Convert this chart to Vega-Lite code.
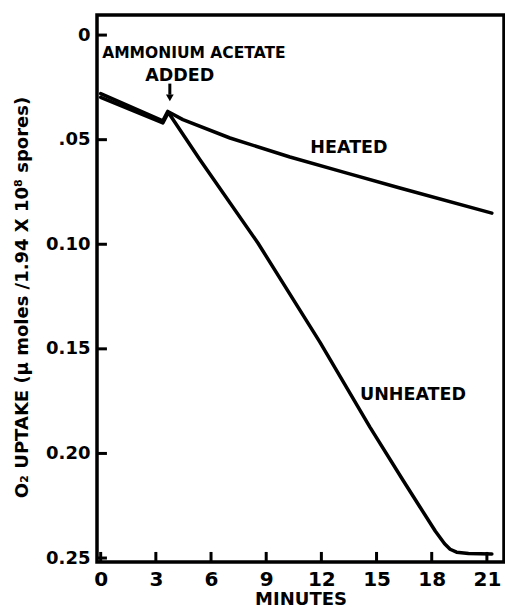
{
  "$schema": "https://vega.github.io/schema/vega-lite/v6.json",
  "width": 407,
  "height": 547,
  "autosize": "none",
  "padding": {"left": 97, "top": 15, "right": 1, "bottom": 45},
  "background": "white",
  "config": {"view": {"stroke": "black", "strokeWidth": 3.5}, "font": "DejaVu Sans"},
  "datasets": {
    "curves": [
      {"series": "heated", "minutes": 0, "uptake": 0.0280},
      {"series": "heated", "minutes": 3.38, "uptake": 0.0410},
      {"series": "heated", "minutes": 3.65, "uptake": 0.0365},
      {"series": "heated", "minutes": 4.47, "uptake": 0.0404},
      {"series": "heated", "minutes": 7.03, "uptake": 0.0492},
      {"series": "heated", "minutes": 10.29, "uptake": 0.0583},
      {"series": "heated", "minutes": 13.39, "uptake": 0.0660},
      {"series": "heated", "minutes": 16.27, "uptake": 0.0731},
      {"series": "heated", "minutes": 21.27, "uptake": 0.0851},
      {"series": "unheated", "minutes": 0, "uptake": 0.0298},
      {"series": "unheated", "minutes": 3.38, "uptake": 0.0420},
      {"series": "unheated", "minutes": 3.68, "uptake": 0.0370},
      {"series": "unheated", "minutes": 5.39, "uptake": 0.0595},
      {"series": "unheated", "minutes": 8.55, "uptake": 0.0994},
      {"series": "unheated", "minutes": 11.92, "uptake": 0.1468},
      {"series": "unheated", "minutes": 14.64, "uptake": 0.1874},
      {"series": "unheated", "minutes": 16.43, "uptake": 0.2127},
      {"series": "unheated", "minutes": 17.36, "uptake": 0.2256},
      {"series": "unheated", "minutes": 18.2, "uptake": 0.2372},
      {"series": "unheated", "minutes": 18.7, "uptake": 0.2432},
      {"series": "unheated", "minutes": 19.0, "uptake": 0.2458},
      {"series": "unheated", "minutes": 19.35, "uptake": 0.2472},
      {"series": "unheated", "minutes": 20.0, "uptake": 0.2478},
      {"series": "unheated", "minutes": 21.27, "uptake": 0.2481}
    ],
    "labels": [
      {"label": "AMMONIUM ACETATE", "minutes": 5.07, "uptake": 0.0084},
      {"label": "ADDED", "minutes": 4.3, "uptake": 0.0194},
      {"label": "HEATED", "minutes": 13.5, "uptake": 0.0540},
      {"label": "UNHEATED", "minutes": 16.98, "uptake": 0.1720}
    ],
    "arrow": [
      {"minutes": 3.76, "top": 0.0232, "bottom": 0.0285, "head": 0.0300}
    ],
    "xticks": [
      {"minutes": 0}, {"minutes": 3}, {"minutes": 6}, {"minutes": 9},
      {"minutes": 12}, {"minutes": 15}, {"minutes": 18}, {"minutes": 21}
    ],
    "yticks": [
      {"uptake": 0}, {"uptake": 0.05}, {"uptake": 0.1},
      {"uptake": 0.15}, {"uptake": 0.2}, {"uptake": 0.25}
    ]
  },
  "layer": [
    {
      "data": {"name": "curves"},
      "mark": {"type": "line", "color": "black", "strokeWidth": 3.5, "strokeJoin": "round", "strokeCap": "round"},
      "encoding": {
        "x": {
          "field": "minutes", "type": "quantitative",
          "scale": {"domain": [-0.2, 21.93], "nice": false, "zero": false},
          "axis": {
            "values": [0, 3, 6, 9, 12, 15, 18, 21],
            "domain": false, "grid": false, "ticks": false,
            "labelPadding": 7, "labelFontSize": 20, "labelFontWeight": "bold", "labelColor": "black",
            "labelFlush": false,
            "title": "MINUTES", "titleFontSize": 18, "titleFontWeight": "bold", "titleColor": "black",
            "titleY": 42, "titleBaseline": "alphabetic"
          }
        },
        "y": {
          "field": "uptake", "type": "quantitative",
          "scale": {"domain": [-0.0096, 0.2519], "reverse": true, "nice": false, "zero": false},
          "axis": {
            "values": [0, 0.05, 0.1, 0.15, 0.2, 0.25],
            "labelExpr": "datum.value == 0 ? '0' : (datum.value == 0.05 ? '.05' : format(datum.value, '.2f'))",
            "domain": false, "grid": false, "ticks": false,
            "labelPadding": 7, "labelFontSize": 18, "labelFontWeight": "bold", "labelColor": "black",
            "labelFlush": false,
            "title": "O₂ UPTAKE (µ moles /1.94 X 10⁸ spores)",
            "titleFontSize": 18, "titleFontWeight": "bold", "titleColor": "black",
            "titleAngle": -90, "titleX": -75, "titleY": 282, "titleAlign": "center", "titleBaseline": "middle"
          }
        },
        "detail": {"field": "series"}
      }
    },
    {
      "data": {"name": "xticks"},
      "mark": {"type": "rule", "color": "black", "strokeWidth": 3},
      "encoding": {
        "x": {"field": "minutes", "type": "quantitative"},
        "y": {"datum": 0.2519},
        "y2": {"datum": 0.2471}
      }
    },
    {
      "data": {"name": "yticks"},
      "mark": {"type": "rule", "color": "black", "strokeWidth": 3},
      "encoding": {
        "y": {"field": "uptake", "type": "quantitative"},
        "x": {"datum": -0.2},
        "x2": {"datum": 0.34}
      }
    },
    {
      "data": {"name": "labels"},
      "transform": [{"filter": "datum.label == 'AMMONIUM ACETATE'"}],
      "mark": {"type": "text", "fontWeight": "bold", "fontSize": 15.5, "color": "black", "align": "center", "baseline": "middle"},
      "encoding": {
        "x": {"field": "minutes", "type": "quantitative"},
        "y": {"field": "uptake", "type": "quantitative"},
        "text": {"field": "label"}
      }
    },
    {
      "data": {"name": "labels"},
      "transform": [{"filter": "datum.label != 'AMMONIUM ACETATE'"}],
      "mark": {"type": "text", "fontWeight": "bold", "fontSize": 17.5, "color": "black", "align": "center", "baseline": "middle"},
      "encoding": {
        "x": {"field": "minutes", "type": "quantitative"},
        "y": {"field": "uptake", "type": "quantitative"},
        "text": {"field": "label"}
      }
    },
    {
      "data": {"name": "arrow"},
      "mark": {"type": "rule", "color": "black", "strokeWidth": 3},
      "encoding": {
        "x": {"field": "minutes", "type": "quantitative"},
        "y": {"field": "top", "type": "quantitative"},
        "y2": {"field": "bottom"}
      }
    },
    {
      "data": {"name": "arrow"},
      "mark": {"type": "point", "shape": "triangle-down", "filled": true, "color": "black", "size": 60, "opacity": 1},
      "encoding": {
        "x": {"field": "minutes", "type": "quantitative"},
        "y": {"field": "head", "type": "quantitative"}
      }
    }
  ]
}
